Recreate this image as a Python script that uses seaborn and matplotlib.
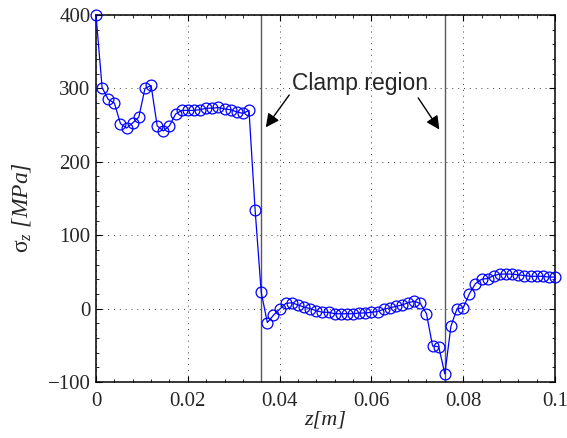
import matplotlib
matplotlib.use("Agg")
import matplotlib.pyplot as plt
import seaborn as sns
import pandas as pd
from matplotlib.ticker import FixedLocator, FixedFormatter, MultipleLocator

# ---- data ----
z = [0, 0.00133, 0.00267, 0.004, 0.00533, 0.00667, 0.008, 0.00933, 0.01067, 0.012,
     0.01333, 0.01467, 0.016, 0.01733, 0.01867, 0.02, 0.02133, 0.02267, 0.024, 0.02533,
     0.02667, 0.028, 0.02933, 0.03067, 0.032, 0.03333, 0.03467, 0.036, 0.03733, 0.03867,
     0.04, 0.04133, 0.04267, 0.044, 0.04533, 0.04667, 0.048, 0.04933, 0.05067, 0.052,
     0.05333, 0.05467, 0.056, 0.05733, 0.05867, 0.06, 0.06133, 0.06267, 0.064, 0.06533,
     0.06667, 0.068, 0.06933, 0.07067, 0.072, 0.07333, 0.07467, 0.076, 0.07733, 0.07867,
     0.08, 0.08133, 0.08267, 0.084, 0.08533, 0.08667, 0.088, 0.08933, 0.09067, 0.092,
     0.09333, 0.09467, 0.096, 0.09733, 0.09867, 0.1]
sigma = [400, 301, 285, 280, 252, 246, 253, 261, 300, 304,
         249, 242, 249, 265, 270, 270, 270, 271, 273, 273,
         274, 272, 271, 268, 266, 270, 134, 22, -19, -9,
         -1, 7, 8, 5, 2, 0, -3, -5, -5, -7,
         -7, -7, -7, -6, -6, -5, -4, -1, 1, 3,
         5, 8, 10, 7, -7, -51, -52, -89, -24, 0,
         1, 20, 34, 40, 41, 45, 47, 47, 47, 46,
         45, 44, 44, 44, 43, 43]
clamp_lines = [0.036, 0.076]
annot_text = "Clamp region"
annot_pos = (0.0576, 298)
arrow_tails = [(0.0421, 291), (0.0702, 287)]
arrow_tips = [(0.0370, 247), (0.0748, 244)]
xticks = [0, 0.02, 0.04, 0.06, 0.08, 0.1]
xticklabels = ["0", "0.02", "0.04", "0.06", "0.08", "0.1"]
yticks = [-100, 0, 100, 200, 300, 400]
yticklabels = ["\u2212100", "0", "100", "200", "300", "400"]

df = pd.DataFrame({"z": z, "sigma": sigma})

sns.set_style("ticks")
plt.rcParams["font.family"] = ["Liberation Serif", "DejaVu Serif"]
plt.rcParams["mathtext.fontset"] = "custom"
plt.rcParams["mathtext.rm"] = "Liberation Serif"
plt.rcParams["mathtext.it"] = "Liberation Serif:italic"

fig = plt.figure(figsize=(5.67, 4.38), dpi=100)
ax = fig.add_axes([96/567, 1-382/438, (555-96)/567, (382-15)/438])

for xc in clamp_lines:
    ax.axvline(xc, color="0.35", lw=1.0, zorder=1)

sns.lineplot(data=df, x="z", y="sigma", ax=ax, sort=False, estimator=None,
             color="#0000ff", lw=0.9, marker="o", markersize=7.8,
             markerfacecolor="none", markeredgecolor="#0000ff",
             markeredgewidth=0.9, clip_on=False, zorder=3)

ax.set_xlim(0, 0.1)
ax.set_ylim(-100, 400)
ax.xaxis.set_major_locator(FixedLocator(xticks))
ax.xaxis.set_major_formatter(FixedFormatter(xticklabels))
ax.yaxis.set_major_locator(FixedLocator(yticks))
ax.yaxis.set_major_formatter(FixedFormatter(yticklabels))
ax.xaxis.set_minor_locator(MultipleLocator(0.004))
ax.yaxis.set_minor_locator(MultipleLocator(20))

ax.grid(True, which="major", color="0.25", linestyle=(0, (1, 5)), lw=0.7)
for s in ax.spines.values():
    s.set_visible(True)
    s.set_linewidth(1.1)
    s.set_color("black")
ax.tick_params(which="both", direction="in", top=True, right=True, color="black")
ax.tick_params(which="major", length=4, width=0.8, labelsize=15)
ax.tick_params(which="minor", length=2.5, width=0.6)
ax.tick_params(axis="x", which="major", pad=7)
ax.tick_params(axis="y", which="major", pad=4)

ax.set_xlabel("z[m]", fontsize=16, style="italic", labelpad=0)
ax.set_ylabel(r"$\mathrm{\sigma}_{z}$ [MPa]", fontsize=17, style="italic")
ax.yaxis.set_label_coords(-0.138, 0.475)

ax.text(annot_pos[0], annot_pos[1], annot_text, ha="center", va="baseline",
        fontsize=16.5, family=["Liberation Sans", "DejaVu Sans"])
for tail, tip in zip(arrow_tails, arrow_tips):
    ax.annotate("", xy=tip, xytext=tail,
                arrowprops=dict(arrowstyle="-|>", color="black", lw=1.0,
                                mutation_scale=20, shrinkA=0, shrinkB=0))

fig.savefig("out.png", dpi=100)
